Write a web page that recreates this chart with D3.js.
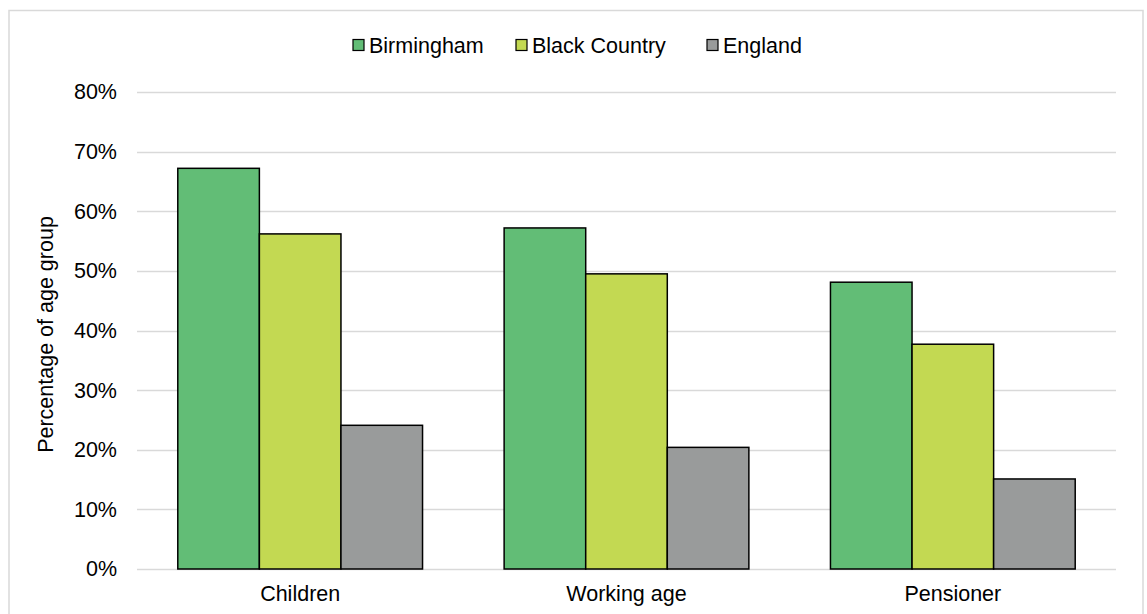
<!DOCTYPE html>
<html>
<head>
<meta charset="utf-8">
<script src="https://cdn.jsdelivr.net/npm/d3@7"></script>
<style>
  html, body { margin: 0; padding: 0; background: #fff; }
  svg { display: block; font-family: "Liberation Sans", Arial, sans-serif; }
</style>
</head>
<body>
<svg id="chart" width="1147" height="614"></svg>
<script>
// Share of each age group, by area
const categories = ["Children", "Working age", "Pensioner"];
const seriesNames = ["Birmingham", "Black Country", "England"];
const birmingham = [67.2, 57.2, 48.1];
const blackCountry = [56.2, 49.5, 37.7];
const england = [24.1, 20.4, 15.1];
const yTicks = [0, 10, 20, 30, 40, 50, 60, 70, 80];
const colors = ["#62BD76", "#C3D952", "#999B9B"];

const seriesValues = [birmingham, blackCountry, england];
const rows = categories.map((c, i) => ({
  category: c,
  values: seriesNames.map((s, j) => ({ series: s, value: seriesValues[j][i], color: colors[j] }))
}));

const svg = d3.select("#chart");
const W = 1147, H = 614;
const FS = 21.5;

// outer frame
svg.append("rect")
  .attr("x", 9).attr("y", 10.5)
  .attr("width", 1134).attr("height", 620)
  .attr("fill", "none").attr("stroke", "#d9d9d9").attr("stroke-width", 1.5);

const margin = { left: 137, right: 31, top: 92, bottom: 45 };
const plotW = W - margin.left - margin.right;
const plotH = H - margin.top - margin.bottom;

const g = svg.append("g").attr("transform", `translate(${margin.left},${margin.top})`);

const y = d3.scaleLinear().domain([0, 80]).range([plotH, 0]);
const x0 = d3.scaleBand().domain(categories).range([0, plotW]).paddingInner(0.25).paddingOuter(0.125);
const x1 = d3.scaleBand().domain(seriesNames).range([0, x0.bandwidth()]).padding(0);

// gridlines
g.append("g")
  .selectAll("line")
  .data(yTicks)
  .join("line")
  .attr("x1", 0).attr("x2", plotW)
  .attr("y1", d => Math.round(y(d)) + 0.5).attr("y2", d => Math.round(y(d)) + 0.5)
  .attr("stroke", "#d9d9d9").attr("stroke-width", 1.5);

// y axis labels
const yAxis = d3.axisLeft(y).tickValues(yTicks).tickFormat(d => d + "%").tickSize(0).tickPadding(20);
g.append("g").call(yAxis)
  .call(a => a.select(".domain").remove())
  .call(a => a.selectAll("text")
    .attr("font-size", FS).attr("fill", "#000")
    .attr("font-family", "Liberation Sans, Arial, sans-serif"));

// bars
const groups = g.append("g").selectAll("g")
  .data(rows)
  .join("g")
  .attr("transform", d => `translate(${x0(d.category)},0)`);

groups.selectAll("rect")
  .data(d => d.values)
  .join("rect")
  .attr("x", d => x1(d.series))
  .attr("y", d => y(d.value))
  .attr("width", x1.bandwidth())
  .attr("height", d => plotH - y(d.value))
  .attr("fill", d => d.color)
  .attr("stroke", "#000")
  .attr("stroke-width", 1.5);

// x axis labels
const xAxis = d3.axisBottom(x0).tickSize(0).tickPadding(17);
g.append("g").attr("transform", `translate(0,${plotH})`).call(xAxis)
  .call(a => a.select(".domain").remove())
  .call(a => a.selectAll("text")
    .attr("font-size", FS).attr("fill", "#000")
    .attr("font-family", "Liberation Sans, Arial, sans-serif"));

// y axis title
svg.append("text")
  .attr("transform", `translate(53,${margin.top + plotH / 2 + 4}) rotate(-90)`)
  .attr("text-anchor", "middle")
  .attr("font-size", FS).attr("fill", "#000")
  .text("Percentage of age group");

// legend
const legendX = [353, 516, 707];
const legend = svg.append("g").selectAll("g")
  .data(seriesNames)
  .join("g")
  .attr("transform", (d, i) => `translate(${legendX[i]},45)`);
legend.append("rect")
  .attr("x", 0).attr("y", -5.5).attr("width", 11).attr("height", 11)
  .attr("fill", (d, i) => colors[i]).attr("stroke", "#000").attr("stroke-width", 1.2);
legend.append("text")
  .attr("x", 16).attr("y", 0).attr("dy", "0.35em")
  .attr("font-size", FS).attr("fill", "#000")
  .text(d => d);
</script>
</body>
</html>
